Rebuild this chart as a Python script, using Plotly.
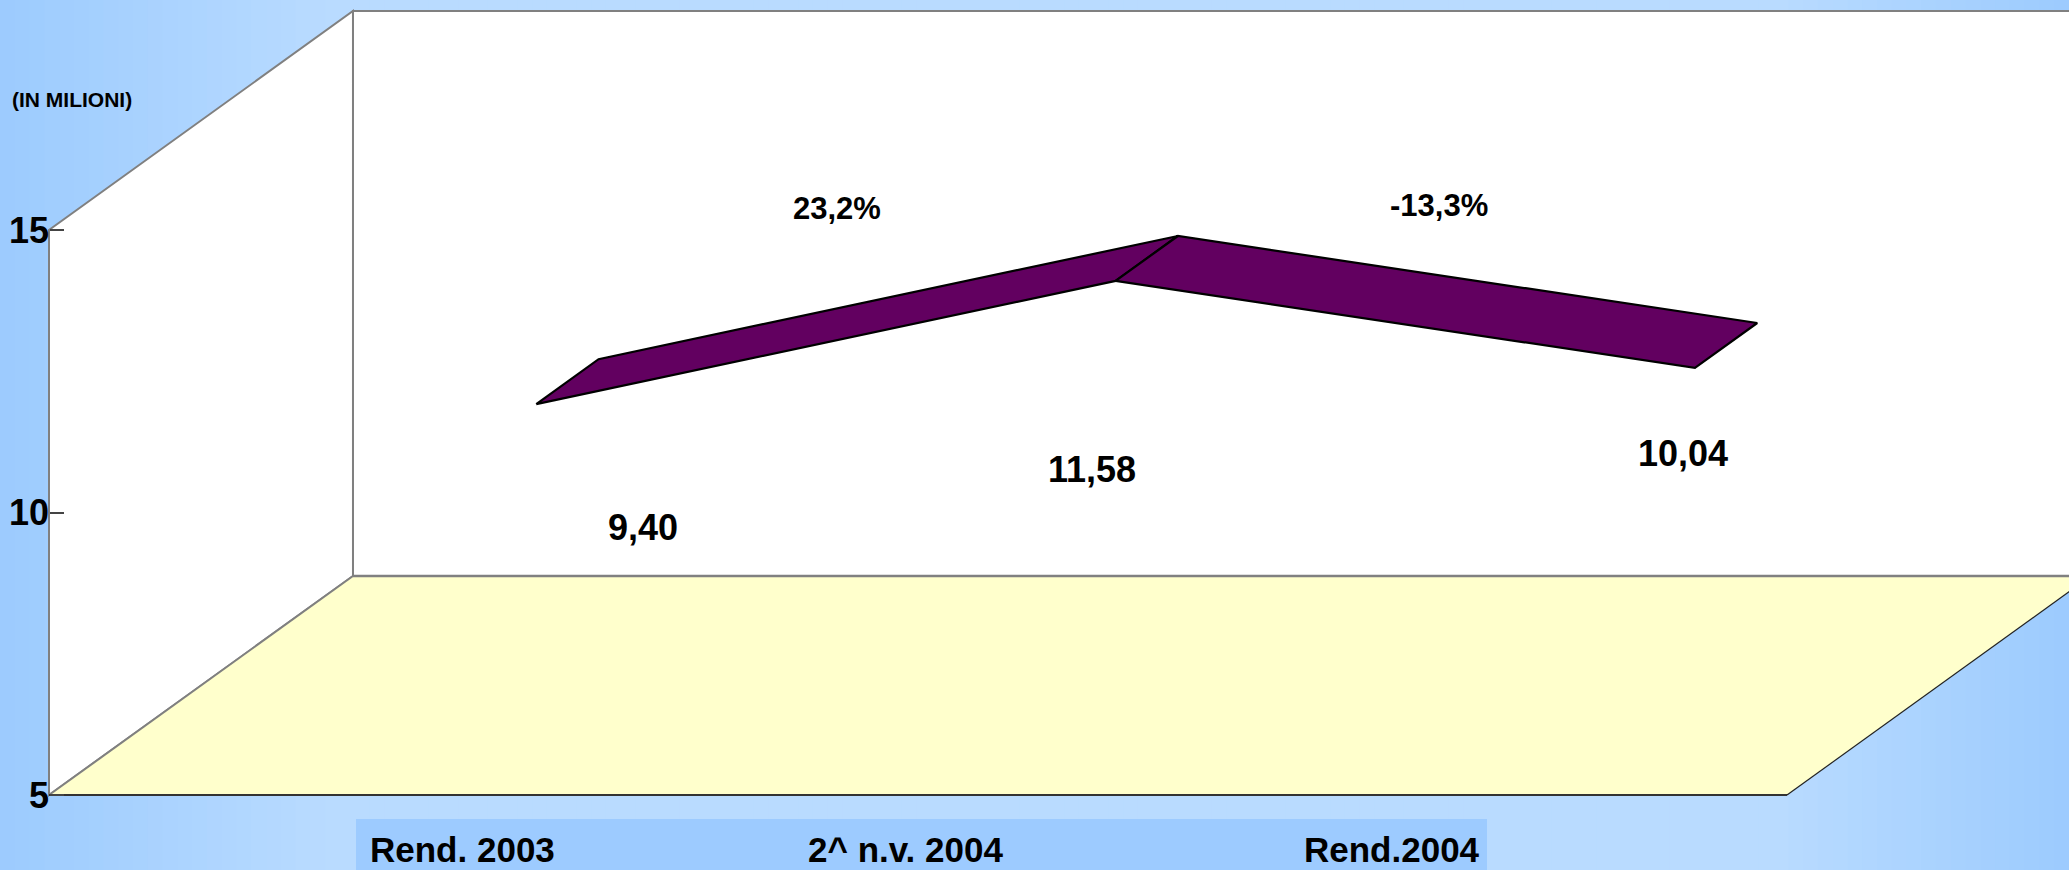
import plotly.graph_objects as go

# data
categories = ["Rend. 2003", "2^ n.v. 2004", "Rend.2004"]
values = [9.40, 11.58, 10.04]
y_ticks = [5, 10, 15]
unit_label = "(IN MILIONI)"

W, H = 2069, 870
FONT = "Liberation Sans, Arial, sans-serif"

# front plane of the 3d box in data units, plus the depth vector
x0, x1 = -0.5, len(categories) - 0.5
y0, y1 = 5, 15
DX, DY = 0.5247, 3.876          # full depth of the box
rib_front, rib_back = 0.65, 0.855  # where the ribbon sits in depth

fig = go.Figure()

# background gradient (dark at the edges, light in the middle)
def bg_color(t):
    dark = (156, 203, 254)
    light = (185, 219, 255)
    if t < 0.16:
        f = t / 0.16
    elif t > 0.86:
        f = (1 - t) / 0.14
    else:
        f = 1
    c = [round(d + (l - d) * f) for d, l in zip(dark, light)]
    return "rgb(%d,%d,%d)" % tuple(c)

shapes = []
n = 140
for i in range(n):
    shapes.append(dict(type="rect", xref="paper", yref="paper", layer="below",
                       x0=i / n, x1=(i + 1) / n + 0.002, y0=0, y1=1,
                       fillcolor=bg_color((i + 0.5) / n), line=dict(width=0)))

# box behind category labels
shapes.append(dict(type="rect", xref="paper", yref="paper", layer="below",
                   x0=356 / W, x1=1487 / W, y0=0, y1=1 - 819 / H,
                   fillcolor="#9DCBFF", line=dict(width=0)))

def path(pts):
    return "M " + " L ".join("%f,%f" % p for p in pts) + " Z"

gray = "#808080"
# back wall
shapes.append(dict(type="path", xref="x", yref="y", layer="below",
                   path=path([(x0 + DX, y0 + DY), (x1 + DX, y0 + DY), (x1 + DX, y1 + DY), (x0 + DX, y1 + DY)]),
                   fillcolor="white", line=dict(color=gray, width=2)))
# left wall
shapes.append(dict(type="path", xref="x", yref="y", layer="below",
                   path=path([(x0, y0), (x0, y1), (x0 + DX, y1 + DY), (x0 + DX, y0 + DY)]),
                   fillcolor="white", line=dict(color=gray, width=2)))
# floor
shapes.append(dict(type="path", xref="x", yref="y", layer="below",
                   path=path([(x0, y0), (x1, y0), (x1 + DX, y0 + DY), (x0 + DX, y0 + DY)]),
                   fillcolor="#FFFFCC", line=dict(width=0)))
shapes.append(dict(type="line", xref="x", yref="y", layer="below",
                   x0=x0, y0=y0, x1=x0 + DX, y1=y0 + DY, line=dict(color=gray, width=2)))
shapes.append(dict(type="line", xref="x", yref="y", layer="below",
                   x0=x0 + DX, y0=y0 + DY, x1=x1 + DX, y1=y0 + DY, line=dict(color=gray, width=2.5)))
shapes.append(dict(type="line", xref="x", yref="y", layer="below",
                   x0=x0, y0=y0, x1=x1, y1=y0, line=dict(color="#333333", width=2)))
shapes.append(dict(type="line", xref="x", yref="y", layer="below",
                   x0=x1, y0=y0, x1=x1 + DX, y1=y0 + DY, line=dict(color="#222222", width=1.2)))

# ribbon (3d line)
xs = list(range(len(values)))
for i in range(len(values) - 1):
    quad_x, quad_y = [], []
    for j, d in ((i, rib_front), (i + 1, rib_front), (i + 1, rib_back), (i, rib_back), (i, rib_front)):
        quad_x.append(xs[j] + d * DX)
        quad_y.append(values[j] + d * DY)
    fig.add_trace(go.Scatter(x=quad_x, y=quad_y, mode="lines", fill="toself",
                             fillcolor="#620060", line=dict(color="black", width=2.2),
                             hoverinfo="skip", showlegend=False))

# labels
ann = []

def label(text, px, py, size, xanchor="center"):
    ann.append(dict(text=text, xref="paper", yref="paper", x=px / W, y=1 - py / H,
                    xanchor=xanchor, yanchor="middle", showarrow=False,
                    font=dict(family=FONT, size=size, color="black", weight="bold")))

value_pos = [(643, 527), (1092, 469), (1683, 453)]
for v, (px, py) in zip(values, value_pos):
    label(("%.2f" % v).replace(".", ","), px, py, 36)

pct_pos = [(837, 208), (1439, 206)]
for i, (px, py) in enumerate(pct_pos):
    pct = (values[i + 1] / values[i] - 1) * 100
    label(("%.1f%%" % pct).replace(".", ","), px, py, 31)

cat_pos = [462, 905, 1392]
for c, px in zip(categories, cat_pos):
    label(c, px, 849, 35)

label(unit_label, 10, 99, 21, xanchor="left")

px_per_x = 1738 / 3
px_per_y = 56.5
fig.update_layout(
    width=W, height=H,
    margin=dict(l=0, r=0, t=0, b=0),
    paper_bgcolor="#9CCBFE", plot_bgcolor="rgba(0,0,0,0)",
    shapes=shapes, annotations=ann, hovermode=False,
    xaxis=dict(range=[x0 - 49 / px_per_x, x1 + (W - 1787) / px_per_x], visible=False, fixedrange=True),
    yaxis=dict(range=[y0 - (H - 795) / px_per_y, y1 + 230 / px_per_y],
               tickvals=y_ticks, ticks="inside", ticklen=14, tickwidth=1.5, tickcolor="#444444",
               showgrid=False, zeroline=False, showline=False,
               anchor="free", position=49 / W, ticklabelstandoff=0,
               tickfont=dict(family=FONT, size=36, color="black", weight="bold"), fixedrange=True),
)

# page has a default body margin; drop it so the figure fills the window
fig.write_html("out.html", config={"displayModeBar": False},
               post_script="document.body.style.margin='0';document.body.style.overflow='hidden';")
